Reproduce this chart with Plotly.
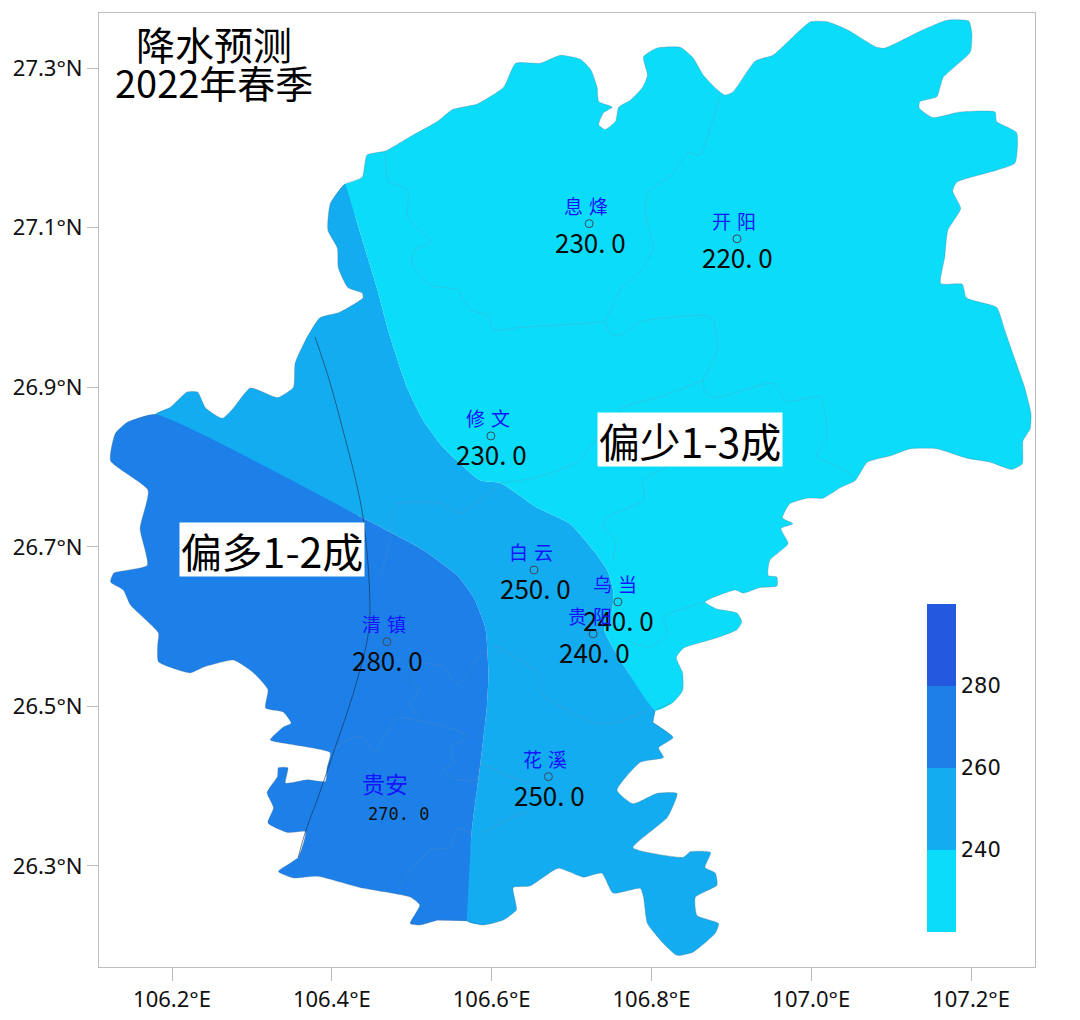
import plotly.graph_objects as go

# region outline, split where the contour lines meet it (lon / lat in degrees)
north_lon = [106.417,106.438,106.444,106.467,106.498,106.532,106.551,106.582,106.615,106.630,106.661,106.686,106.711,106.724,106.732,106.734,106.751,106.740,106.734,106.742,106.755,106.759,106.774,106.789,106.795,106.790,106.807,106.836,106.852,106.865,106.882,106.892,106.902,106.930,106.952,106.977,106.999,107.020,107.045,107.082,107.092,107.140,107.170,107.197,107.201,107.199,107.165,107.157,107.136,107.135,107.152,107.186,107.230,107.232,107.257,107.255,107.232,107.182,107.177,107.187,107.171,107.167,107.162,107.189,107.194,107.232,107.242,107.252,107.267,107.275,107.274,107.265,107.264,107.251,107.224,107.195,107.157,107.124,107.099,107.070,107.055,107.036,107.015,106.995,106.973,106.964,106.977,106.962,106.971,106.948,106.946,106.957,106.957,106.936,106.915,106.905,106.867,106.882,106.907,106.913,106.907,106.882,106.840,106.831,106.839,106.839,106.827,106.805]
north_lat = [27.155,27.163,27.191,27.196,27.214,27.233,27.248,27.255,27.276,27.306,27.306,27.316,27.311,27.298,27.276,27.258,27.251,27.244,27.229,27.223,27.233,27.251,27.260,27.276,27.291,27.314,27.325,27.326,27.313,27.291,27.273,27.266,27.270,27.309,27.316,27.339,27.358,27.358,27.348,27.326,27.325,27.348,27.360,27.359,27.344,27.320,27.288,27.264,27.258,27.250,27.238,27.245,27.245,27.233,27.219,27.181,27.172,27.157,27.146,27.124,27.097,27.063,27.030,27.029,27.012,27.000,26.972,26.943,26.900,26.867,26.848,26.833,26.804,26.797,26.806,26.811,26.823,26.823,26.814,26.806,26.783,26.774,26.761,26.761,26.754,26.736,26.729,26.723,26.704,26.683,26.664,26.662,26.651,26.649,26.642,26.646,26.631,26.622,26.617,26.606,26.596,26.586,26.573,26.561,26.542,26.520,26.505,26.495]

south_lon = [106.802,106.827,106.809,106.815,106.786,106.757,106.777,106.807,106.832,106.820,106.777,106.840,106.849,106.874,106.867,106.880,106.882,106.855,106.857,106.884,106.880,106.852,106.832,106.815,106.795,106.790,106.786,106.752,106.738,106.715,106.683,106.648,106.627,106.631,106.614,106.589,106.569]
south_lat = [26.480,26.461,26.448,26.436,26.430,26.395,26.378,26.391,26.391,26.361,26.323,26.311,26.318,26.317,26.298,26.291,26.276,26.261,26.238,26.228,26.216,26.192,26.188,26.203,26.228,26.261,26.272,26.266,26.291,26.286,26.297,26.275,26.273,26.245,26.232,26.226,26.231]

west_lon = [106.532,106.510,106.498,106.510,106.498,106.435,106.382,106.352,106.333,106.358,106.367,106.345,106.320,106.327,106.319,106.332,106.333,106.345,106.342,106.369,106.392,106.394,106.398,106.352,106.323,106.339,106.349,106.339,106.317,106.320,106.302,106.277,106.239,106.223,106.183,106.182,106.183,106.148,106.139,106.123,106.127,106.169,106.160,106.170,106.123,106.129,106.144,106.179]
west_lat = [26.232,26.226,26.228,26.251,26.261,26.273,26.287,26.285,26.293,26.311,26.343,26.342,26.354,26.373,26.392,26.412,26.423,26.423,26.404,26.408,26.406,26.423,26.442,26.452,26.458,26.474,26.479,26.493,26.498,26.521,26.542,26.558,26.549,26.542,26.556,26.577,26.592,26.627,26.646,26.656,26.667,26.677,26.723,26.771,26.808,26.842,26.856,26.866]

northwest_lon = [106.198,106.219,106.232,106.242,106.263,106.277,106.298,106.332,106.352,106.354,106.367,106.385,106.410,106.439,106.438,106.420,106.408,106.407,106.395,106.398]
northwest_lat = [26.875,26.894,26.894,26.874,26.861,26.874,26.899,26.887,26.900,26.930,26.959,26.987,26.994,27.012,27.018,27.025,27.050,27.074,27.097,27.130]

# contour 240: north-west edge down to the south-east edge
contour240_lon = [106.432,106.457,106.473,106.494,106.514,106.539,106.586,106.611,106.657,106.698,106.727,106.745,106.752,106.751,106.741,106.769]
contour240_lat = [27.105,27.022,26.963,26.900,26.859,26.825,26.783,26.780,26.749,26.729,26.696,26.670,26.646,26.621,26.596,26.546]

# contour 260: west edge across to the south edge
contour260_lon = [106.439,106.514,106.557,106.577,106.592,106.596,106.594,106.586,106.575]
contour260_lat = [26.736,26.696,26.664,26.637,26.599,26.542,26.500,26.429,26.342]

# county borders
border_lons = [
    [106.886,106.873,106.861,106.846,106.827,106.795,106.792,106.802,106.790,106.761,106.742],
    [106.742,106.686,106.636,106.602,106.596,106.573,106.557,106.523,106.500,106.504,106.523,106.495,106.495,106.470,106.467],
    [106.742,106.748,106.761,106.786,106.865,106.877,106.882,106.865,106.867,106.882,106.952,106.969,107.011,107.020,107.007,107.048,107.055],
    [106.865,106.811,106.765,106.705,106.652,106.611],
    [106.820,106.790,106.790,106.745,106.740,106.755,106.752],
    [106.589,106.557,106.539,106.514,106.502,106.510,106.498,106.510,106.482,106.452,106.439,106.423,106.402],
    [106.510,106.532,106.557,106.570,106.548,106.552,106.539,106.557,106.582,106.586,106.623,106.648],
    [106.589,106.627,106.645],
    [106.573,106.557,106.548,106.523,106.482],
    [106.795,106.752,106.724],
    [106.867,106.815,106.820,106.798,106.769],
    [106.602,106.658,106.661,106.724],
    [106.461,106.473,106.480,106.536,106.560,106.611],
]
border_lats = [
    [27.264,27.223,27.191,27.194,27.168,27.143,27.118,27.075,27.050,27.022,26.982],
    [26.982,26.978,26.975,26.972,26.990,26.997,27.022,27.028,27.055,27.072,27.082,27.113,27.147,27.159,27.196],
    [26.982,26.968,26.965,26.982,26.990,26.984,26.947,26.909,26.893,26.887,26.905,26.882,26.888,26.837,26.814,26.793,26.783],
    [26.909,26.888,26.875,26.805,26.786,26.780],
    [26.800,26.784,26.759,26.737,26.724,26.708,26.683],
    [26.570,26.528,26.549,26.554,26.532,26.520,26.503,26.482,26.486,26.442,26.462,26.460,26.445],
    [26.482,26.477,26.470,26.462,26.449,26.429,26.421,26.408,26.408,26.427,26.412,26.404],
    [26.342,26.362,26.368],
    [26.342,26.347,26.323,26.320,26.273],
    [26.495,26.479,26.479],
    [26.631,26.612,26.592,26.574,26.583],
    [26.577,26.542,26.517,26.479],
    [26.662,26.708,26.753,26.755,26.742,26.780],
]

# thin black line through the west of the map
river_lon = [106.379,106.398,106.415,106.430,106.439,106.447,106.446,106.430,106.402,106.382,106.367,106.358]
river_lat = [26.963,26.905,26.842,26.783,26.737,26.650,26.594,26.527,26.442,26.384,26.343,26.311]

# stations
station_names = ["息 烽", "开 阳", "修 文", "白 云", "乌 当", "贵 阳", "清 镇", "花 溪"]
station_lon = [106.722, 106.907, 106.599, 106.653, 106.758, 106.727, 106.469, 106.671]
station_lat = [27.105, 27.086, 26.839, 26.671, 26.631, 26.591, 26.581, 26.412]
station_values = [230.0, 220.0, 230.0, 250.0, 240.0, 240.0, 280.0, 250.0]

guian_name = "贵安"
guian_value = 270.0

color_levels = ["#0adcfa", "#14acf0", "#1c80e8", "#2259de"]
cbar_ticks = [240, 260, 280]

lon_ticks = [106.2, 106.4, 106.6, 106.8, 107.0, 107.2]
lat_ticks = [26.3, 26.5, 26.7, 26.9, 27.1, 27.3]

cjk = "Noto Sans CJK SC"
edge = "rgba(90,110,130,0.5)"
curve = dict(shape="spline", smoothing=0.5)

# polygons are glued from the outline pieces and the contours
ne_lon = north_lon + contour240_lon[::-1]
ne_lat = north_lat + contour240_lat[::-1]
mid_lon = south_lon + contour260_lon[::-1] + [west_lon[-1]] + northwest_lon + [north_lon[0]] + contour240_lon + [north_lon[-1]]
mid_lat = south_lat + contour260_lat[::-1] + [west_lat[-1]] + northwest_lat + [north_lat[0]] + contour240_lat + [north_lat[-1]]
sw_lon = west_lon + contour260_lon + [south_lon[-1]]
sw_lat = west_lat + contour260_lat + [south_lat[-1]]

fig = go.Figure()
for xs, ys, c in [(mid_lon, mid_lat, color_levels[1]), (ne_lon, ne_lat, color_levels[0]), (sw_lon, sw_lat, color_levels[2])]:
    fig.add_trace(go.Scatter(x=xs, y=ys, mode="lines", fill="toself", fillcolor=c,
                             line=dict(width=0, **curve), hoverinfo="skip"))

for xs, ys in zip(border_lons, border_lats):
    fig.add_trace(go.Scatter(x=xs, y=ys, mode="lines", hoverinfo="skip",
                             line=dict(color="rgba(120,140,170,0.25)", width=1, **curve)))

out_lon = north_lon + south_lon + west_lon + northwest_lon + north_lon[:1]
out_lat = north_lat + south_lat + west_lat + northwest_lat + north_lat[:1]
fig.add_trace(go.Scatter(x=out_lon, y=out_lat, mode="lines", hoverinfo="skip", line=dict(color=edge, width=0.6, **curve)))
fig.add_trace(go.Scatter(x=river_lon, y=river_lat, mode="lines", hoverinfo="skip",
                         line=dict(color="#1a2a44", width=0.6, shape="spline")))

fig.add_trace(go.Scatter(x=station_lon, y=station_lat, mode="markers", hoverinfo="skip",
                         marker=dict(symbol="circle-open", size=8, color="#3c4a55", line=dict(width=1))))

# stepped colour bar, carried by an empty trace
stops = []
for i, c in enumerate(color_levels):
    stops += [[i / len(color_levels), c], [(i + 1) / len(color_levels), c]]
fig.add_trace(go.Scatter(x=[None], y=[None], mode="markers", hoverinfo="skip",
                         marker=dict(color=[220], cmin=220, cmax=300, colorscale=stops, showscale=True,
                                     colorbar=dict(x=0.8846, xanchor="left", xpad=0, ypad=0, y=0.2086, yanchor="middle",
                                                   len=0.3438, lenmode="fraction", thickness=29, thicknessmode="pixels",
                                                   outlinewidth=0, ticks="", tickvals=cbar_ticks,
                                                   tickfont=dict(family="DejaVu Sans", size=21, color="#111")))))

for name, lon, lat, val in zip(station_names, station_lon, station_lat, station_values):
    fig.add_annotation(x=lon, y=lat, text=name, showarrow=False, xshift=-3, yshift=17,
                       font=dict(family="DejaVu Sans, " + cjk, size=19, color="#1414ff"))
    fig.add_annotation(x=lon, y=lat, text=f"{val:.1f}".replace(".", ". "), showarrow=False, xshift=1, yshift=-18,
                       font=dict(family=cjk, size=26, color="#0a0a0a"))

fig.add_annotation(x=106.467, y=26.404, text=guian_name, showarrow=False, font=dict(family=cjk, size=23, color="#1414ff"))
fig.add_annotation(x=106.483, y=26.365, text=f"{guian_value:.1f}".replace(".", ". "), showarrow=False,
                   font=dict(family="DejaVu Sans Mono", size=17, color="#111"))

fig.add_annotation(x=106.2526, y=27.331, text="降水预测", showarrow=False, font=dict(family=cjk, size=39, color="#000"))
fig.add_annotation(x=106.2526, y=27.283, text="2022年春季", showarrow=False, font=dict(family=cjk, size=38, color="#000"))
fig.add_annotation(x=106.848, y=26.834, text="偏少1-3成", showarrow=False, bgcolor="#fff", borderpad=0, width=184, height=53,
                   font=dict(family=cjk, size=41, color="#000"))
fig.add_annotation(x=106.325, y=26.697, text="偏多1-2成", showarrow=False, bgcolor="#fff", borderpad=0, width=184, height=53,
                   font=dict(family=cjk, size=41, color="#000"))

axis_style = dict(showgrid=False, zeroline=False, showline=True, mirror=True, linecolor="#bdbdbd", linewidth=1,
                  ticks="outside", tickcolor="#bdbdbd", tickwidth=1,
                  tickfont=dict(family="Noto Sans", size=22, color="#111"))
fig.update_xaxes(range=[106.1086, 107.280], tickvals=lon_ticks, ticktext=[f"{v:.1f}°E" for v in lon_ticks], ticklen=13, **axis_style)
fig.update_yaxes(range=[26.1734, 27.369], tickvals=lat_ticks, ticktext=[f"{v:.1f}°N" for v in lat_ticks], ticklen=11, **axis_style)
# page body keeps its 8px margin, so the figure starts at (8, 8)
fig.update_layout(width=1064, height=1004, margin=dict(l=91, r=37, t=5, b=45, autoexpand=False),
                  showlegend=False, plot_bgcolor="#fff", paper_bgcolor="#fff")

fig.write_html("out.html")
